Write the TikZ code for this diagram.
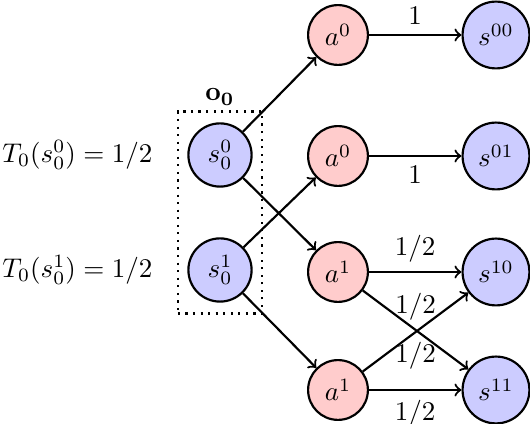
\documentclass[tikz,border=0pt]{standalone}
\usetikzlibrary{fit}
\begin{document}
\begin{tikzpicture}[x=0.37037pt,y=-0.37037pt,
  snode/.style={circle,draw,thick,fill=blue!20},
  anode/.style={circle,draw,thick,fill=red!20},
  arr/.style={->,thick}]
\useasboundingbox (0,0) rectangle (530,424);
% initial states
\node[snode] (sa) at (220,155) {$s_0^0$};
\node[snode] (sb) at (220,270) {$s_0^1$};
% actions
\node[anode] (a0a) at (338,35) {$a^0$};
\node[anode] (a0b) at (338,156) {$a^0$};
\node[anode] (a1a) at (338,272) {$a^1$};
\node[anode] (a1b) at (338,390) {$a^1$};
% successor states
\node[snode] (s00) at (496,35) {$s^{00}$};
\node[snode] (s01) at (496,156) {$s^{01}$};
\node[snode] (s10) at (496,272) {$s^{10}$};
\node[snode] (s11) at (496,390) {$s^{11}$};
% labels
\node[anchor=east] (ta) at (162,155) {$T_0(s_0^0) = 1/2$};
\node[anchor=east] (tb) at (162,270) {$T_0(s_0^1) = 1/2$};
\node[fit=(sa)(sb),draw,dotted,thick,inner xsep=3.5pt,inner ysep=4pt] (box) {};
\node (o0) at (220,97) {$\mathbf{o_0}$};
% edges
\draw[arr] (sa) -- (a0a);
\draw[arr] (sa) -- (a1a);
\draw[arr] (sb) -- (a0b);
\draw[arr] (sb) -- (a1b);
\draw[arr] (a0a) -- node[above] {$1$} (s00);
\draw[arr] (a0b) -- node[below] {$1$} (s01);
\draw[arr] (a1a) -- node[above] {$1/2$} (s10);
\draw[arr] (a1a) -- node[above] {$1/2$} (s11);
\draw[arr] (a1b) -- node[below] {$1/2$} (s10);
\draw[arr] (a1b) -- node[below] {$1/2$} (s11);
\end{tikzpicture}
\end{document}
